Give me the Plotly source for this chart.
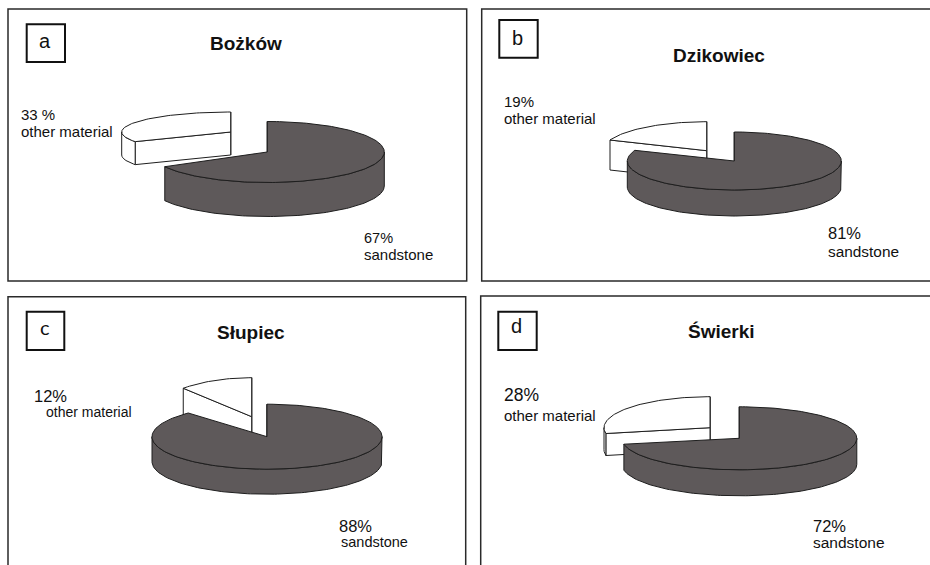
import numpy as np
import plotly.graph_objects as go

# ---- data: share of material in each site's assemblage (%) ----
sites = ["Bożków", "Dzikowiec", "Słupiec", "Świerki"]
panel_letters = ["a", "b", "c", "d"]
sandstone_pct = [67, 81, 88, 72]
other_pct = [33, 19, 12, 28]
sandstone_labels = ["67%", "81%", "88%", "72%"]
other_labels = ["33 %", "19%", "12%", "28%"]
category_names = ["sandstone", "other material"]

# ---- layout of the four panels (pixel space, y grows downward) ----
PANELS = [
    dict(frame=(8, 9, 466.7, 281), box=(26.7, 24.3, 65, 62), letter_base=48,
         letter_font="Liberation Sans", title=(246, 50),
         main=dict(cx=267.3, cy=152, rx=117, ry=30.5, depth=34),
         cut=dict(dx=-36.6, dy=-20, rx=109, ry=20, depth=23),
         other_txt=[(19.3, 120, 15), (19.3, 136.7, 15)],
         sand_txt=[(361.7, 243.5, 14.5), (361.7, 259.5, 15)]),
    dict(frame=(481.7, 9, 945, 281), box=(499.3, 20, 537.7, 57.7), letter_base=45,
         letter_font="Liberation Sans", title=(719.2, 61.7),
         main=dict(cx=734.3, cy=161, rx=107, ry=29, depth=26),
         cut=dict(dx=-27.6, dy=-10.3, rx=104, ry=29, depth=30),
         other_txt=[(501.7, 106.7, 15), (501.7, 123.3, 15)],
         sand_txt=[(826, 238.5, 16.5), (826, 256.5, 15.4)]),
    dict(frame=(8, 296.7, 465.7, 590), box=(26.7, 311.7, 64.3, 350), letter_base=334.3,
         letter_font="Lato", title=(251.3, 339.3),
         main=dict(cx=267, cy=436.7, rx=115, ry=32.5, depth=25),
         cut=dict(dx=-15.3, dy=-20, rx=100, ry=39, depth=27),
         other_txt=[(32.3, 402.2, 16.5), (44.3, 417, 14)],
         sand_txt=[(336.7, 531.5, 16.5), (339.3, 547.2, 14.5)]),
    dict(frame=(480.7, 296, 945, 590), box=(498.3, 311.7, 536.7, 350), letter_base=333.3,
         letter_font="Liberation Sans", title=(721.7, 338.3),
         main=dict(cx=739.3, cy=438.3, rx=117.5, ry=31.5, depth=26),
         cut=dict(dx=-29.3, dy=-10.6, rx=106, ry=31, depth=22),
         other_txt=[(502.3, 401.2, 17.5), (502.3, 420.3, 15)],
         sand_txt=[(810.7, 532.2, 16.5), (810.7, 547.8, 15.5)]),
]

W, H = 930, 565
DARK = "#5e595a"
EDGE = "#1e1e1e"
FONT = "Liberation Sans, Arial, sans-serif"


def arc(c, a0, a1, drop=0.0):
    n = max(10, int(abs(a1 - a0) / 1.5))
    t = np.radians(np.linspace(a0, a1, n))
    return c["cx"] + c["rx"] * np.cos(t), c["cy"] - c["ry"] * np.sin(t) + drop


def slice_faces(c, a0, a1):
    """Faces of a 3-D pie wedge spanning a0..a1 (deg, counter-clockwise), back to front."""
    faces = []
    d = c["depth"]
    # flat radial cuts that face the viewer
    for ang, normal in ((a0, a0 - 90), (a1, a1 + 90)):
        if np.sin(np.radians(normal)) <= 1e-6:
            t = np.radians(ang)
            px = c["cx"] + c["rx"] * np.cos(t)
            py = c["cy"] - c["ry"] * np.sin(t)
            faces.append(([c["cx"], px, px, c["cx"], c["cx"]],
                          [c["cy"], py, py + d, c["cy"] + d, c["cy"]]))
    # curved wall on the front half of the disc
    for k in range(-2, 3):
        s, e = max(a0, 180 + 360 * k), min(a1, 360 + 360 * k)
        if e > s:
            tx, ty = arc(c, s, e)
            bx, by = arc(c, e, s, drop=d)
            faces.append((np.r_[tx, bx, tx[0]], np.r_[ty, by, ty[0]]))
    # top surface
    tx, ty = arc(c, a0, a1)
    faces.append((np.r_[c["cx"], tx, c["cx"]], np.r_[c["cy"], ty, c["cy"]]))
    return faces


fig = go.Figure()
shapes, annotations = [], []


def add_text(x, baseline, size, text, anchor="left", bold=False, family=FONT):
    annotations.append(dict(
        x=x, y=baseline - 0.35 * size, xref="x", yref="y", text=f"<b>{text}</b>" if bold else text,
        showarrow=False, xanchor=anchor, yanchor="middle",
        font=dict(family=family, size=size, color="#111111")))


for i, P in enumerate(PANELS):
    x0, y0, x1, y1 = P["frame"]
    shapes.append(dict(type="rect", xref="x", yref="y", x0=x0, y0=y0, x1=x1, y1=y1,
                       line=dict(color="#2a2a2a", width=1.5), fillcolor="rgba(0,0,0,0)"))
    bx0, by0, bx1, by1 = P["box"]
    shapes.append(dict(type="rect", xref="x", yref="y", x0=bx0, y0=by0, x1=bx1, y1=by1,
                       line=dict(color="#111111", width=2), fillcolor="white"))
    add_text((bx0 + bx1) / 2 - 1, P["letter_base"], 20, panel_letters[i], anchor="center",
             family=P["letter_font"] + ", sans-serif")
    add_text(P["title"][0], P["title"][1], 19, sites[i], anchor="center", bold=True)

    # wedge angles: sandstone runs clockwise from 12 o'clock, the rest fills the gap
    split = 90 - 360 * sandstone_pct[i] / 100.0
    m = P["main"]
    ct = P["cut"]
    cut = dict(cx=m["cx"] + ct["dx"], cy=m["cy"] + ct["dy"], rx=ct["rx"], ry=ct["ry"], depth=ct["depth"])
    other_span = 360 * other_pct[i] / 100.0

    for (cfg, a0, a1, fill, name) in ((cut, 90, 90 + other_span, "white", category_names[1]),
                                       (m, split, 90, DARK, category_names[0])):
        for xs, ys in slice_faces(cfg, a0, a1):
            fig.add_trace(go.Scatter(x=xs, y=ys, mode="lines", fill="toself", fillcolor=fill,
                                     line=dict(color=EDGE, width=1), hoverinfo="skip",
                                     showlegend=False, name=name))

    (ox, ob, osz), (mx, mb, msz) = P["other_txt"]
    add_text(ox, ob, osz, other_labels[i])
    add_text(mx, mb, msz, category_names[1])
    (sx, sb, ssz), (tx_, tb, tsz) = P["sand_txt"]
    add_text(sx, sb, ssz, sandstone_labels[i])
    add_text(tx_, tb, tsz, category_names[0])

fig.update_layout(
    width=W, height=H, autosize=False,
    margin=dict(l=0, r=0, t=0, b=0),
    paper_bgcolor="white", plot_bgcolor="white",
    xaxis=dict(range=[0, W], visible=False, fixedrange=True),
    yaxis=dict(range=[H, 0], visible=False, fixedrange=True),
    shapes=shapes, annotations=annotations, showlegend=False,
)

fig.write_html("out.html")
